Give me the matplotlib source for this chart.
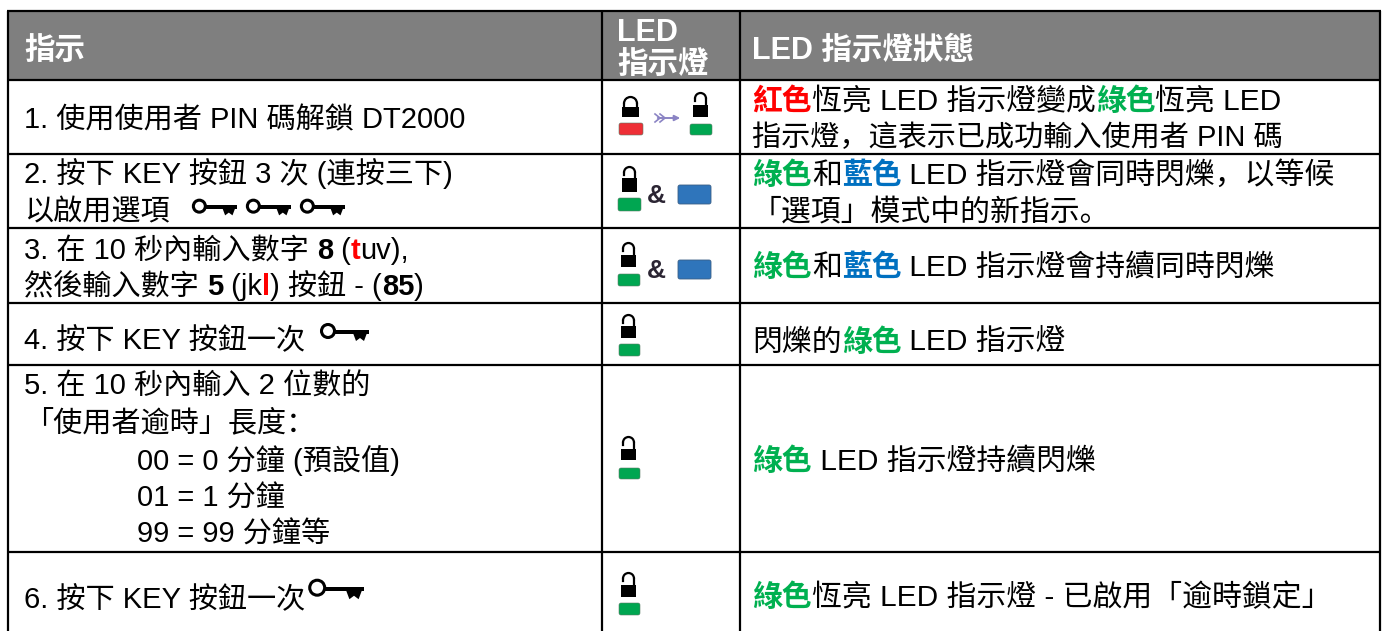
import matplotlib
matplotlib.use("Agg")
import matplotlib.pyplot as plt
from matplotlib.patches import Rectangle, FancyBboxPatch, Arc, Circle, Polygon
from matplotlib.font_manager import FontProperties

W, H = 1382, 631
FAM = ['Liberation Sans', 'Noto Sans CJK SC']
SIZE = 21.0
COL3_SIZE = 21.5
HEAD_SIZE = 22.0
RED, GREEN, BLUE = '#ff0000', '#00b050', '#0070c0'
K = 'black'

col_x = [8, 602, 740, 1380]
row_y = [11, 80, 154, 228, 303, 365, 552, 640]

# each line: (x, baseline y, [(text, colour, bold), ...])
header_lines = [
    (24, 59, [('指示', 'white', True)]),
    (617, 41, [('LED', 'white', True)]),
    (617, 73, [('指示燈', 'white', True)]),
    (752, 59, [('LED 指示燈狀態', 'white', True)]),
]
col1_lines = [
    (24, 128, [('1. 使用使用者 PIN 碼解鎖 DT2000', K, False)]),
    (24, 183, [('2. 按下 KEY 按鈕 3 次 (連按三下)', K, False)]),
    (24, 220, [('以啟用選項', K, False)]),
    (24, 259, [('3. 在 10 秒內輸入數字 ', K, False), ('8', K, True), (' (', K, False), ('t', RED, True), ('uv),', K, False)]),
    (24, 295, [('然後輸入數字 ', K, False), ('5', K, True), (' (jk', K, False), ('l', RED, True), (') 按鈕 - (', K, False), ('85', K, True), (')', K, False)]),
    (24, 349, [('4. 按下 KEY 按鈕一次', K, False)]),
    (24, 395, [('5. 在 10 秒內輸入 2 位數的', K, False)]),
    (24, 431, [('「使用者逾時」長度：', K, False)]),
    (137, 470, [('00 = 0 分鐘 (預設值)', K, False)]),
    (137, 507, [('01 = 1 分鐘', K, False)]),
    (137, 543, [('99 = 99 分鐘等', K, False)]),
    (24, 608, [('6. 按下 KEY 按鈕一次', K, False)]),
]
col3_lines = [
    (752, 110, [('紅色', RED, True), ('恆亮 LED 指示燈變成', K, False), ('綠色', GREEN, True), ('恆亮 LED', K, False)]),
    (752, 146, [('指示燈，這表示已成功輸入使用者 PIN 碼', K, False)]),
    (752, 184, [('綠色', GREEN, True), ('和', K, False), ('藍色', BLUE, True), (' LED 指示燈會同時閃爍，以等候', K, False)]),
    (752, 220, [('「選項」模式中的新指示。', K, False)]),
    (752, 276, [('綠色', GREEN, True), ('和', K, False), ('藍色', BLUE, True), (' LED 指示燈會持續同時閃爍', K, False)]),
    (752, 351, [('閃爍的', K, False), ('綠色', GREEN, True), (' LED 指示燈', K, False)]),
    (752, 470, [('綠色', GREEN, True), (' LED 指示燈持續閃爍', K, False)]),
    (752, 606, [('綠色', GREEN, True), ('恆亮 LED 指示燈 - 已啟用「逾時鎖定」', K, False)]),
]
col3_sizes = [COL3_SIZE, SIZE, COL3_SIZE, COL3_SIZE, COL3_SIZE, COL3_SIZE, COL3_SIZE, COL3_SIZE]

# icons: (x left of body, body width, body top, body bottom, shackle top, open?)
locks = [(622, 17, 107, 117, 97, False), (693, 15, 105, 117, 93, True),
         (622, 15, 178, 192, 167, True), (621, 15, 255, 267, 243, True),
         (621, 15, 326, 338, 315, True), (621, 15, 449, 460, 437, True),
         (621, 15, 585, 597, 573, True)]
leds = [(619, 123, 24, 12, '#ee2f36'), (690, 124, 22, 11, '#00a651'),
        (618, 198, 23, 13, '#00a651'), (618, 274, 22, 12, '#00a651'),
        (619, 344, 21, 12, '#00a651'), (619, 468, 21, 11, '#00a651'),
        (619, 603, 21, 12, '#00a651')]
blues = [(678, 185, 33, 19), (678, 260, 33, 19)]
amps = [(656, 203), (656, 278)]
# key icons: (left x, bar y, scale)
keys = [(192, 208, 0.92), (246, 208, 0.92), (300, 208, 0.92), (320, 333, 1.0), (308, 590, 1.15)]

fig = plt.figure(figsize=(W / 100, H / 100), dpi=100, facecolor='white')
ax = fig.add_axes([0, 0, 1, 1])
ax.set_xlim(0, W)
ax.set_ylim(H, 0)
ax.axis('off')

ax.add_patch(Rectangle((col_x[0], row_y[0]), col_x[-1] - col_x[0], row_y[1] - row_y[0], fc='#7f7f7f', ec='none'))
for y in row_y[:-1]:
    ax.plot([col_x[0] - 1, col_x[-1] + 1], [y, y], color='black', lw=1.6, solid_capstyle='butt')
for x in col_x:
    ax.plot([x, x], [row_y[0], H], color='black', lw=1.6, solid_capstyle='butt')


def width(s, bold, size):
    fp = FontProperties(family=FAM, size=size, weight='bold' if bold else 'normal')
    r = fig.canvas.get_renderer()
    a = ax.text(0, 0, 'x' + s + 'x', fontproperties=fp)
    b = ax.text(0, 0, 'xx', fontproperties=fp)
    w = a.get_window_extent(r).width - b.get_window_extent(r).width
    a.remove()
    b.remove()
    return w


def draw_line(x, y, segs, size):
    for s, c, bold in segs:
        ax.text(x, y, s, color=c, family=FAM, size=size,
                weight='bold' if bold else 'normal', va='baseline', ha='left')
        x += width(s, bold, size)


for x, y, segs in header_lines:
    draw_line(x, y, segs, HEAD_SIZE)
for x, y, segs in col1_lines:
    draw_line(x, y, segs, SIZE)
for (x, y, segs), size in zip(col3_lines, col3_sizes):
    draw_line(x, y, segs, size)


def lock(x, w, top, bot, shtop, is_open):
    ax.add_patch(Rectangle((x, top), w, bot - top, fc='black', ec='none', zorder=3))
    r = w / 2 - 2
    cx = x + w / 2
    ax.add_patch(Arc((cx, shtop + r), 2 * r, 2 * r, theta1=180, theta2=360, color='black', lw=1.6, zorder=3))
    ax.plot([cx + r, cx + r], [shtop + r, top], color='black', lw=1.6, zorder=3)
    end = shtop + r + (2 if is_open else top - shtop - r)
    ax.plot([cx - r, cx - r], [shtop + r, end], color='black', lw=1.6, zorder=3)


for l in locks:
    lock(*l)
for x, y, w, h, c in leds:
    ax.add_patch(FancyBboxPatch((x + 1.5, y + 1.5), w - 3, h - 3, boxstyle='round,pad=1.5,rounding_size=2',
                                fc=c, ec='#5a7a66', lw=0.4, zorder=3))
for x, y, w, h in blues:
    ax.add_patch(FancyBboxPatch((x + 1.5, y + 1.5), w - 3, h - 3, boxstyle='round,pad=1.5,rounding_size=2',
                                fc='#2f75bb', ec='#3a5f85', lw=0.6, zorder=3))
for x, y in amps:
    ax.text(x, y, '&', color='#2b2533', family=FAM, size=19, weight='bold', ha='center', va='baseline')

# arrow between the two lock states
ax.annotate('', xy=(683, 118), xytext=(655, 118),
            arrowprops=dict(arrowstyle='-|>', color='#8b84c4', lw=1.4, mutation_scale=8))
for dx in (0, 5):
    ax.plot([655 + dx, 660 + dx, 655 + dx], [114, 118, 122], color='#8b84c4', lw=1.2)


def key(x, y, s):
    ax.add_patch(Circle((x + 8 * s, y - 2 * s), 6.5 * s, fc='none', ec='black', lw=2.2, zorder=3))
    ax.add_patch(Rectangle((x + 14 * s, y - 3 * s), 35 * s, 4 * s, fc='black', ec='none', zorder=3))
    ax.add_patch(Polygon([(x + 33 * s, y), (x + 47 * s, y), (x + 44 * s, y + 8 * s), (x + 40 * s, y + 5 * s), (x + 36 * s, y + 8 * s)],
                         closed=True, fc='black', ec='none', zorder=3))


for x, y, s in keys:
    key(x, y, s)

fig.savefig('out.png', dpi=100, facecolor='white')
